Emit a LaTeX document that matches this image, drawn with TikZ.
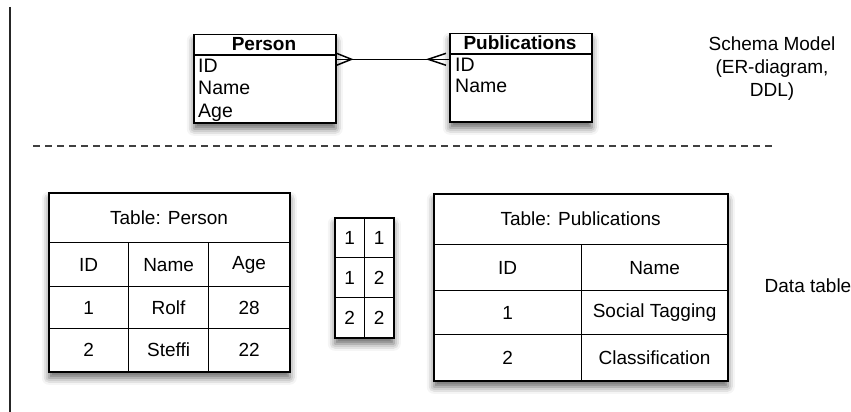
\documentclass[tikz,border=0pt]{standalone}
\usepackage{fontspec}
\setmainfont{Liberation Sans}
\usetikzlibrary{shadows.blur,calc}
\begin{document}
\begin{tikzpicture}[x=1pt,y=-1pt,
  every node/.style={font=\fontsize{19}{23}\selectfont, inner sep=0pt, text=black},
  sbox/.style={draw, line width=1.5pt, fill=white, anchor=north west,
    blur shadow={shadow xshift=0pt, shadow yshift=-6pt, shadow blur radius=7pt, shadow opacity=60}},
  cell/.style={draw, line width=1.2pt, anchor=north west, align=center},
  attr/.style={anchor=base west, font=\fontsize{19.5}{23}\selectfont},
  ttl/.style={anchor=base, font=\fontsize{19}{23}\selectfont\bfseries},
  conn/.style={line width=1.5pt, draw=black},
  lbl/.style={align=center}
]
\useasboundingbox (0,0) rectangle (851,412);

% left vertical line
\coordinate (vt) at (10,7);
\coordinate (vb) at (10,412);
\draw[line width=1.3pt, black!85] (vt) -- (vb);

% ---------- ER diagram ----------
\node[sbox, minimum width=142pt, minimum height=88pt] (erP) at (193,34) {};
\draw[line width=1.2pt] ($(erP.north west)+(0,21)$) -- ($(erP.north east)+(0,21)$);
\node[ttl] (erPt) at (264,50.5) {Person};
\node[attr] (erPid) at (198,73) {ID};
\node[attr] (erPname) at (198,95) {Name};
\node[attr] (erPage) at (198,117) {Age};

\node[sbox, minimum width=142pt, minimum height=88pt] (erQ) at (449,33) {};
\draw[line width=1.2pt] ($(erQ.north west)+(0,21)$) -- ($(erQ.north east)+(0,21)$);
\node[ttl] (erQt) at (520,49.5) {Publications};
\node[attr] (erQid) at (455,71.5) {ID};
\node[attr] (erQname) at (455,92.5) {Name};

% connector with crow's feet
\coordinate (cl) at ($(erP.east |- erPid)+(0,-7)$);
\coordinate (cr) at ($(erQ.west |- erPid)+(0,-7)$);
\coordinate (cl2) at ($(cl)+(15,0)$);
\coordinate (cr2) at ($(cr)+(-21,0)$);
\draw[conn] (cl) -- (cr);
\draw[conn] ($(cl)+(0,-6)$) -- (cl2) -- ($(cl)+(0,6)$);
\draw[conn] ($(cr)+(-3,-6)$) -- (cr2) -- ($(cr)+(-3,6)$);

\node[lbl] (schema) at (772,69) {Schema Model\\(ER-diagram,\\DDL)};

% dashed separator
\coordinate (dl) at (33,146);
\coordinate (dr) at (775,146);
\draw[line width=1.4pt, black!75, dash pattern=on 7pt off 5pt] (dl) -- (dr);

% ---------- Table: Person ----------
\node[sbox, minimum width=241pt, minimum height=179pt] (tP) at (48,192) {};
\node[cell, minimum width=241pt, minimum height=50pt] (tPh) at (48,192) {Table: Person};
\node[cell, minimum width=80pt, minimum height=44pt] (tP11) at (48,242) {ID};
\node[cell, minimum width=80pt, minimum height=44pt] (tP12) at (128,242) {Name};
\node[cell, minimum width=81pt, minimum height=44pt] (tP13) at (208,242) {Age};
\node[cell, minimum width=80pt, minimum height=42pt] (tP21) at (48,286) {1};
\node[cell, minimum width=80pt, minimum height=42pt] (tP22) at (128,286) {Rolf};
\node[cell, minimum width=81pt, minimum height=42pt] (tP23) at (208,286) {28};
\node[cell, minimum width=80pt, minimum height=43pt] (tP31) at (48,328) {2};
\node[cell, minimum width=80pt, minimum height=43pt] (tP32) at (128,328) {Steffi};
\node[cell, minimum width=81pt, minimum height=43pt] (tP33) at (208,328) {22};

% ---------- link table ----------
\node[sbox, minimum width=59pt, minimum height=120pt] (tL) at (334,217) {};
\node[cell, minimum width=30pt, minimum height=40pt] (tL11) at (334,217) {1};
\node[cell, minimum width=29pt, minimum height=40pt] (tL12) at (364,217) {1};
\node[cell, minimum width=30pt, minimum height=40pt] (tL21) at (334,257) {1};
\node[cell, minimum width=29pt, minimum height=40pt] (tL22) at (364,257) {2};
\node[cell, minimum width=30pt, minimum height=40pt] (tL31) at (334,297) {2};
\node[cell, minimum width=29pt, minimum height=40pt] (tL32) at (364,297) {2};

% ---------- Table: Publications ----------
\node[sbox, minimum width=294pt, minimum height=187pt] (tQ) at (433,193) {};
\node[cell, minimum width=294pt, minimum height=51pt] (tQh) at (433,193) {Table: Publications};
\node[cell, minimum width=148pt, minimum height=46pt] (tQ11) at (433,244) {ID};
\node[cell, minimum width=146pt, minimum height=46pt] (tQ12) at (581,244) {Name};
\node[cell, minimum width=148pt, minimum height=44pt] (tQ21) at (433,290) {1};
\node[cell, minimum width=146pt, minimum height=44pt] (tQ22) at (581,290) {Social Tagging};
\node[cell, minimum width=148pt, minimum height=46pt] (tQ31) at (433,334) {2};
\node[cell, minimum width=146pt, minimum height=46pt] (tQ32) at (581,334) {Classification};

\node[lbl] (datatable) at (808,286) {Data table};
\end{tikzpicture}
\end{document}
